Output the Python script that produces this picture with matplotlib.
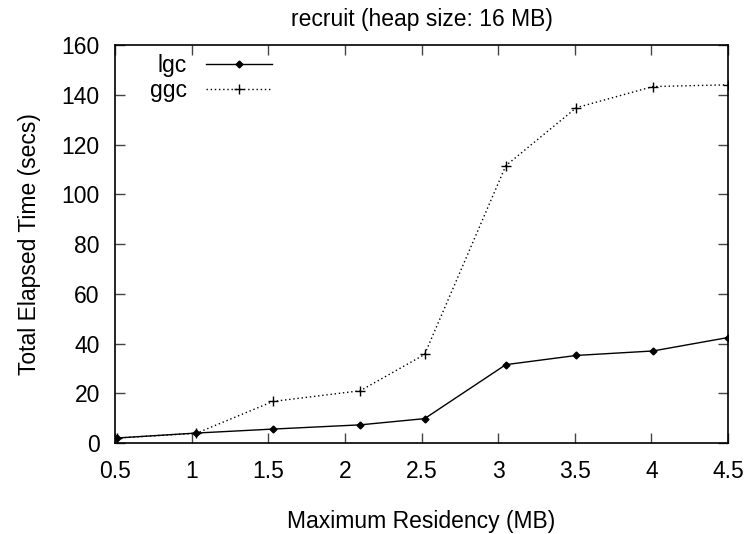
import matplotlib.pyplot as plt
import numpy as np

plt.rcParams['font.family'] = ['Liberation Sans', 'DejaVu Sans']

# residency (MB) and elapsed times (secs)
residency = [0.51, 1.03, 1.53, 2.1, 2.52, 3.05, 3.51, 4.01, 4.5]
lgc_time = [2.0, 4.0, 5.6, 7.3, 9.8, 31.5, 35.2, 37.0, 42.4]
ggc_time = [2.0, 3.9, 16.7, 21.0, 35.6, 111.5, 134.8, 143.3, 144.0]

x_ticks = [0.5, 1, 1.5, 2, 2.5, 3, 3.5, 4, 4.5]
x_labels = ['0.5', '1', '1.5', '2', '2.5', '3', '3.5', '4', '4.5']
y_ticks = [0, 20, 40, 60, 80, 100, 120, 140, 160]

FS = 16.5

fig = plt.figure(figsize=(7.47, 5.34), dpi=100)
ax = fig.add_axes([0.154, 0.1704, 0.8206, 0.7453])

ax.plot(residency, lgc_time, color='black', lw=1.0, marker='D', markersize=3.5,
        label='lgc')
ax.plot(residency, ggc_time, color='black', lw=1.0, linestyle=(0, (1, 2)),
        marker='+', markersize=7, markeredgewidth=1.0, label='ggc')

ax.set_xlim(0.5, 4.5)
ax.set_ylim(0, 160)
ax.set_xticks(x_ticks)
ax.set_xticklabels(x_labels)
ax.set_yticks(y_ticks)
ax.tick_params(direction='in', top=True, right=True, length=7, width=1,
               labelsize=FS, color='#444444')
ax.tick_params(axis='y', pad=11)
ax.tick_params(axis='x', pad=12)
for s in ax.spines.values():
    s.set_linewidth(1.2)

ax.set_title('recruit (heap size: 16 MB)', fontsize=FS, pad=14)
ax.set_xlabel('Maximum Residency (MB)', fontsize=FS, labelpad=20)
ax.set_ylabel('Total Elapsed Time (secs)', fontsize=FS, labelpad=15)

ax.legend(loc='upper left', frameon=False, markerfirst=False, fontsize=FS,
          handlelength=2.9, handletextpad=0.8, borderaxespad=0.2,
          labelspacing=0.1, bbox_to_anchor=(0.035, 1.012))

fig.savefig('out.png', dpi=100)
